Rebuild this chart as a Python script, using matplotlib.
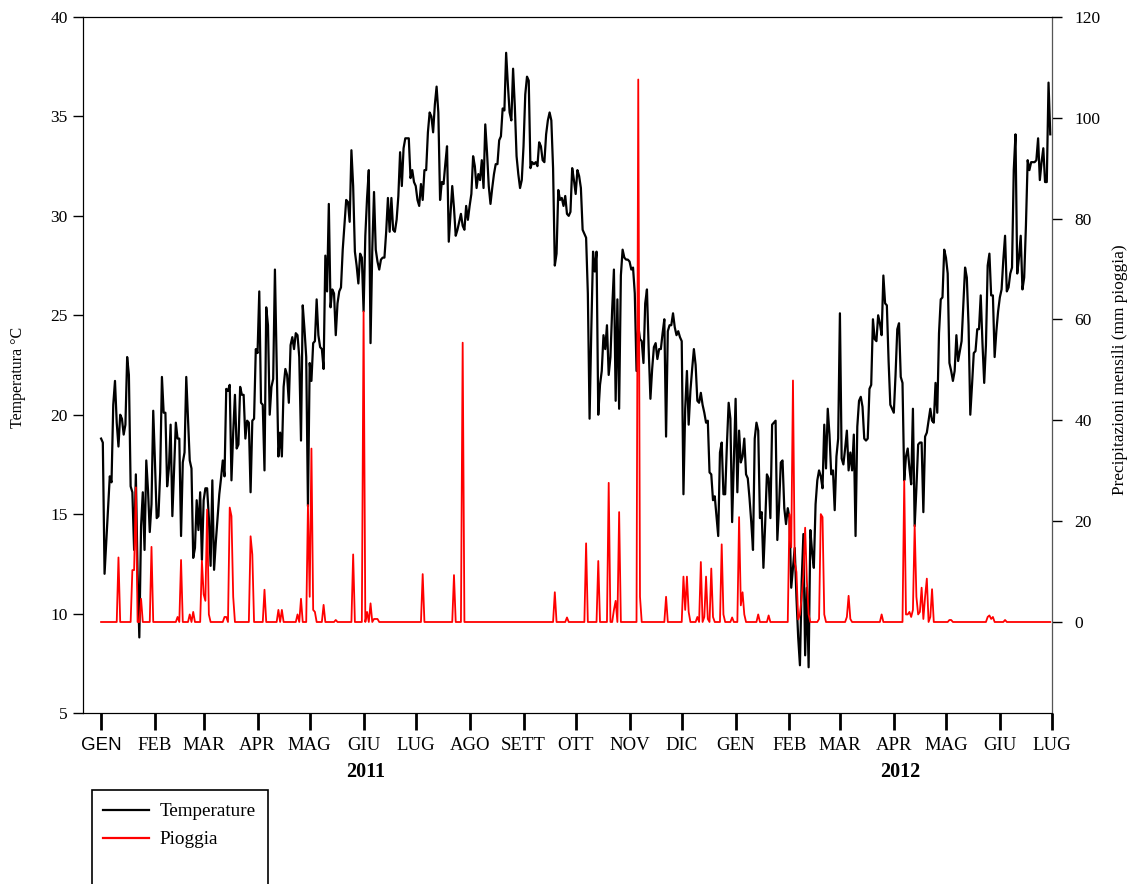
import numpy as np
import matplotlib
matplotlib.use('Agg')
import matplotlib.pyplot as plt
from matplotlib.lines import Line2D
from matplotlib.patches import Rectangle

# giorni dal 1 gennaio 2011 (0) al 1 luglio 2012 (547)
temp_giorni = [
    0, 1, 2, 4, 5, 6, 7, 8, 9, 10, 11, 12, 13, 14, 15, 16, 17, 18, 19, 20,
    21, 22, 23, 24, 25, 26, 27, 28, 29, 30, 31, 32, 33, 34, 35, 36, 37, 38, 39, 40,
    41, 42, 43, 44, 45, 46, 47, 48, 49, 50, 51, 52, 53, 54, 55, 56, 57, 58, 59, 60,
    61, 62, 63, 64, 65, 66, 68, 69, 70, 71, 72, 73, 74, 75, 76, 77, 78, 79, 80,
    81, 82, 83, 84, 85, 86, 87, 88, 89, 90, 91, 92, 93, 94, 95, 96, 97, 98, 99, 100,
    101, 102, 103, 104, 105, 106, 107, 108, 109, 110, 111, 112, 113, 114, 115, 116, 117, 118, 119, 120,
    121, 122, 123, 124, 125, 126, 127, 128, 129, 130, 131, 132, 133, 134, 135, 136, 137, 138, 139,
    141, 142, 143, 144, 145, 146, 147, 148, 149, 150, 151, 152, 153, 154, 155, 156, 157, 158, 159, 160,
    161, 162, 163, 164, 165, 166, 167, 168, 169, 170, 171, 172, 173, 174, 175, 176, 177, 178, 179, 180,
    181, 182, 183, 184, 185, 186, 187, 188, 189, 190, 191, 192, 193, 194, 195, 196, 197, 198, 199, 200,
    201, 202, 203, 204, 205, 206, 207, 208, 209, 210, 211, 212, 213, 214, 215, 216, 217, 218, 219, 220,
    221, 222, 223, 224, 225, 226, 227, 228, 229, 230, 231, 232, 233, 234, 235, 236, 237, 238, 239, 240,
    241, 242, 243, 244, 245, 246, 247, 248, 249, 250, 251, 252, 253, 254, 255, 256, 257, 258, 259, 260,
    261, 262, 263, 264, 265, 266, 267, 268, 269, 270, 271, 272, 273, 274, 275, 276, 277, 278, 279, 280,
    281, 282, 283, 284, 285, 286, 287, 288, 289, 290, 291, 292, 293, 294, 295, 296, 297, 298, 299, 300,
    301, 302, 303, 304, 305, 306, 307, 308, 309, 310, 311, 312, 313, 314, 315, 316, 317, 318, 319, 320,
    321, 322, 323, 324, 325, 326, 327, 328, 329, 330, 331, 332, 333, 334, 335, 336, 337, 338, 339, 340,
    341, 342, 343, 344, 345, 346, 347, 348, 349, 350, 351, 352, 353, 354, 355, 356, 357, 358, 359, 360,
    361, 362, 363, 364, 365, 366, 367, 368, 369, 370, 371, 372, 373, 374, 375, 376, 377, 378, 379, 380,
    381, 382, 383, 384, 385, 386, 387, 388, 389, 390, 391, 392, 393, 394, 395, 396, 397, 398, 399, 400,
    401, 402, 403, 404, 405, 406, 407, 408, 409, 410, 411, 412, 413, 414, 415, 416, 417, 418, 419, 420,
    421, 422, 423, 424, 425, 426, 427, 428, 429, 430, 431, 432, 433, 434, 435, 436, 437, 438, 439, 440,
    441, 442, 443, 444, 445, 446, 447, 448, 449, 450, 451, 452, 453, 454, 455, 456, 457, 458, 459, 460,
    461, 462, 463, 464, 465, 466, 467, 468, 469, 470, 471, 472, 473, 474, 475, 476, 477, 478, 479, 480,
    481, 482, 483, 484, 485, 486, 487, 488, 489, 490, 491, 492, 493, 494, 495, 496, 497, 498, 499, 500,
    501, 502, 503, 504, 505, 506, 507, 508, 509, 510, 511, 512, 513, 514, 515, 516, 517, 518, 519, 520,
    521, 522, 523, 524, 525, 526, 527, 528, 529, 530, 531, 532, 533, 534, 535, 536, 537, 538, 539, 540,
    541, 542, 543, 544, 545, 546,
]
temp_valori = [
    18.8, 18.6, 12.0, 15.3, 16.9, 16.6, 20.5, 21.7, 19.6, 18.4, 20.0, 19.8, 19.0, 19.5, 22.9, 22.0, 16.4, 16.1, 13.2, 17.0,
    12.0, 8.8, 14.4, 16.1, 13.2, 17.7, 16.2, 14.1, 15.5, 20.2, 17.6, 14.8, 14.9, 17.1, 21.9, 20.1, 20.1, 16.4, 17.3, 19.5,
    14.9, 17.2, 19.6, 18.8, 18.8, 13.9, 17.6, 18.1, 21.9, 19.8, 17.7, 17.3, 12.8, 13.3, 15.7, 14.2, 16.1, 12.7, 15.7, 16.3,
    16.3, 14.8, 12.4, 16.7, 12.2, 13.6, 16.0, 16.8, 17.7, 16.9, 21.3, 21.2, 21.5, 16.7, 19.1, 21.0, 18.3, 18.5, 21.4,
    21.0, 21.0, 18.8, 19.7, 19.6, 16.1, 19.7, 19.8, 23.3, 23.1, 26.2, 20.6, 20.5, 17.2, 25.4, 24.5, 20.0, 21.4, 21.8, 27.3,
    22.7, 17.9, 19.1, 17.9, 21.4, 22.3, 22.0, 20.6, 23.5, 23.9, 23.3, 24.1, 24.0, 22.9, 18.7, 25.5, 24.3, 22.9, 15.4, 22.6,
    21.7, 23.6, 23.7, 25.8, 24.0, 23.4, 23.3, 22.3, 28.0, 26.2, 30.6, 25.4, 26.3, 26.1, 24.0, 25.6, 26.2, 26.4, 28.3,
    30.8, 30.7, 29.7, 33.3, 31.5, 28.2, 27.5, 26.6, 28.1, 27.9, 25.2, 29.0, 30.9, 32.3, 23.6, 28.3, 31.2, 28.3, 27.7, 27.3,
    27.8, 27.9, 27.9, 29.2, 30.9, 29.2, 30.9, 29.3, 29.2, 29.8, 31.0, 33.2, 31.5, 33.4, 33.9, 33.9, 33.9, 31.9, 32.3, 31.7,
    31.5, 30.8, 30.5, 31.6, 30.8, 32.3, 32.3, 34.2, 35.2, 35.0, 34.2, 35.6, 36.5, 35.2, 30.8, 31.7, 31.6, 32.6, 33.5, 28.7,
    30.1, 31.5, 30.4, 29.0, 29.3, 29.7, 30.1, 29.5, 29.3, 30.5, 29.8, 30.5, 31.1, 33.0, 32.5, 31.4, 32.1, 31.8, 32.8, 31.4,
    34.6, 33.2, 31.5, 30.6, 31.4, 32.1, 32.6, 32.6, 33.8, 34.0, 35.4, 35.3, 38.2, 36.6, 35.2, 34.8, 37.4, 35.5, 33.0, 32.1,
    31.4, 31.8, 33.5, 36.1, 37.0, 36.8, 32.4, 32.7, 32.6, 32.7, 32.5, 33.7, 33.5, 32.8, 32.7, 34.1, 34.8, 35.2, 34.8, 32.4,
    27.5, 28.1, 31.3, 30.8, 30.9, 30.5, 31.0, 30.1, 30.0, 30.2, 32.4, 31.8, 31.1, 32.3, 32.0, 31.4, 29.3, 29.1, 28.9, 26.1,
    19.8, 24.3, 28.2, 27.2, 28.2, 20.0, 21.5, 22.2, 24.0, 23.3, 24.5, 22.0, 22.9, 25.3, 27.3, 20.7, 25.8, 20.3, 27.0, 28.3,
    27.9, 27.8, 27.8, 27.7, 27.3, 27.4, 26.1, 22.2, 24.5, 23.8, 23.7, 22.6, 25.6, 26.3, 23.3, 20.8, 22.3, 23.4, 23.6, 22.8,
    23.3, 23.3, 24.1, 24.8, 18.9, 24.2, 24.5, 24.5, 25.1, 24.4, 24.0, 24.2, 23.9, 23.7, 16.0, 20.3, 22.2, 19.5, 21.2, 22.3,
    23.3, 22.5, 20.7, 20.6, 21.1, 20.5, 20.1, 19.6, 19.7, 17.1, 17.0, 15.7, 15.9, 14.9, 13.9, 18.1, 18.6, 16.0, 16.0, 18.5,
    20.6, 19.8, 14.6, 17.8, 20.8, 16.1, 19.2, 17.6, 17.9, 18.8, 17.0, 16.8, 15.8, 14.6, 13.2, 18.8, 19.6, 19.2, 14.8, 15.1,
    12.3, 14.5, 17.0, 16.8, 14.8, 19.5, 19.6, 19.7, 13.7, 15.4, 17.6, 17.7, 15.3, 14.5, 15.3, 14.8, 11.3, 12.3, 13.3, 10.8,
    8.8, 7.4, 11.6, 14.0, 7.9, 11.3, 7.3, 14.2, 13.1, 12.3, 15.5, 16.7, 17.2, 16.9, 16.3, 19.5, 17.3, 20.3, 19.0, 17.0,
    17.2, 15.2, 17.9, 18.8, 25.1, 17.8, 17.5, 18.3, 19.2, 17.2, 18.1, 17.2, 19.0, 13.9, 19.4, 20.7, 20.9, 20.4, 18.8, 18.7,
    18.8, 21.3, 21.5, 24.8, 23.8, 23.7, 25.0, 24.6, 24.0, 27.0, 25.6, 25.5, 22.7, 20.5, 20.3, 20.1, 22.0, 24.3, 24.6, 21.9,
    21.6, 16.7, 17.9, 18.3, 17.3, 16.5, 20.3, 14.4, 16.3, 18.5, 18.6, 18.6, 15.1, 18.9, 19.1, 19.7, 20.3, 19.7, 19.6, 21.6,
    20.1, 24.1, 25.8, 25.9, 28.3, 27.9, 27.1, 22.6, 22.2, 21.7, 22.2, 24.0, 22.7, 23.2, 23.7, 25.6, 27.4, 26.9, 24.5, 20.0,
    21.5, 23.1, 23.2, 24.3, 24.3, 26.0, 23.6, 21.6, 23.5, 27.5, 28.1, 26.0, 26.0, 22.9, 24.2, 25.2, 25.9, 26.3, 27.8, 29.0,
    26.2, 26.4, 27.1, 27.4, 32.3, 34.1, 27.1, 27.9, 29.0, 26.3, 26.9, 29.5, 32.8, 32.3, 32.7, 32.7, 32.7, 32.8, 33.9, 31.8,
    32.7, 33.4, 31.7, 31.7, 36.7, 34.1,
]

# giorni di pioggia (mm), gli altri giorni sono 0
pioggia_giorni = [
    10, 18, 19, 20, 23, 29, 44, 46, 51, 53, 58, 59, 60, 61, 62, 71, 72, 74, 75, 76,
    86, 87, 94, 102, 104, 113, 115, 119, 120, 121, 122, 123, 128, 135, 145, 151, 153, 155, 157, 158,
    159, 185, 203, 208, 261, 268, 279, 286, 292, 295, 296, 298, 309, 310, 325, 335, 336, 337, 338, 343,
    345, 347, 348, 349, 351, 352, 357, 358, 363, 367, 368, 369, 370, 378, 384, 396, 397, 398, 399, 400,
    401, 402, 403, 404, 405, 406, 407, 413, 414, 415, 416, 429, 430, 431, 449, 462, 463, 464, 465, 466,
    467, 468, 469, 470, 471, 472, 473, 474, 475, 477, 478, 488, 489, 510, 511, 512, 513, 520,
]
pioggia_valori = [
    12.8, 10.3, 10.3, 26.7, 4.6, 14.9, 1.0, 12.3, 1.5, 2.0, 12.1, 5.5, 4.2, 22.3, 1.5, 1.0, 1.0, 22.7, 21.0, 5.0,
    17.0, 13.4, 6.4, 2.4, 2.4, 1.5, 4.6, 23.2, 5.0, 34.4, 2.4, 2.0, 3.4, 0.4, 13.4, 61.6, 2.0, 3.7, 0.6, 0.6,
    0.6, 9.5, 9.3, 55.4, 5.9, 0.9, 15.6, 12.1, 27.6, 2.4, 4.2, 21.8, 107.6, 5.0, 5.0, 9.0, 2.4, 9.0, 2.0, 1.0,
    11.9, 1.0, 9.0, 0.6, 10.6, 1.0, 15.4, 1.5, 0.9, 20.8, 3.3, 5.9, 1.5, 1.5, 1.3, 21.4, 14.8, 47.9, 11.9, 9.9,
    0.5, 1.5, 5.0, 9.4, 18.7, 8.1, 1.5, 0.6, 21.4, 20.8, 1.5, 1.0, 5.2, 0.6, 1.5, 28.0, 1.5, 1.5, 2.0, 1.0,
    2.4, 19.2, 5.0, 1.5, 2.0, 6.8, 0.6, 5.0, 8.6, 1.0, 6.5, 0.4, 0.4, 1.0, 1.3, 0.6, 1.0, 0.4,
]

mesi_giorni = [0, 31, 59, 90, 120, 151, 181, 212, 243, 273, 304, 334,
               365, 396, 425, 456, 486, 517, 547]
mesi_etichette = ['GEN', 'FEB', 'MAR', 'APR', 'MAG', 'GIU', 'LUG', 'AGO', 'SETT', 'OTT', 'NOV', 'DIC',
                  'GEN', 'FEB', 'MAR', 'APR', 'MAG', 'GIU', 'LUG']

plt.rcParams['font.family'] = ['Liberation Serif', 'DejaVu Serif']

W, H = 1135, 884
fig = plt.figure(figsize=(W / 100, H / 100), dpi=100)
ax = fig.add_axes([83 / W, 1 - 713 / H, (1052 - 83) / W, (713 - 17) / H])

# temperatura
ax.plot(temp_giorni, temp_valori, color='black', lw=1.6)
ax.set_xlim(-10.4, 547)
ax.set_ylim(5, 40)
ax.set_yticks(range(5, 41, 5))
ax.set_xticks(mesi_giorni)
ax.set_xticklabels(mesi_etichette)
ax.get_xticklabels()[0].set_fontfamily('Liberation Sans')
ax.tick_params(axis='x', direction='out', length=12, width=2, pad=5, labelsize=13.5)
ax.tick_params(axis='y', direction='out', length=7, width=1, pad=4, labelsize=12.5)

# pioggia sull'asse destro
pioggia = np.zeros(547)
pioggia[pioggia_giorni] = pioggia_valori
ax2 = ax.twinx()
ax2.plot(np.arange(547), pioggia, color='red', lw=1.3)
ax2.set_ylim(-18.05, 120)
ax2.set_yticks(range(0, 121, 20))
ax2.tick_params(axis='y', direction='out', length=7, width=1, pad=9, labelsize=12.5)
ax2.spines['right'].set_color('#555555')

# etichette
fig.text(18 / W, 1 - 377 / H, 'Temperatura °C', rotation=90, ha='center', va='center', fontsize=11.5)
fig.text(1120 / W, 1 - 370 / H, 'Precipitazioni mensili (mm pioggia)', rotation=90,
         ha='center', va='center', fontsize=12.4)
fig.text(366 / W, 1 - 772 / H, '2011', ha='center', va='center', fontsize=14.5, fontweight='bold')
fig.text(900 / W, 1 - 772 / H, '2012', ha='center', va='center', fontsize=14.5, fontweight='bold')

# legenda
handles = [Line2D([], [], color='black', lw=1.6), Line2D([], [], color='red', lw=1.6)]
fig.legend(handles, ['Temperature', 'Pioggia'], loc='upper left',
           bbox_to_anchor=(103 / W, 1 - 803 / H), frameon=False, borderpad=0, borderaxespad=0,
           handlelength=2.4, handletextpad=0.55, labelspacing=0.55, fontsize=13.8)
fig.patches.append(Rectangle((92 / W, -0.05), (268 - 92) / W, 0.05 + 1 - 790 / H,
                             transform=fig.transFigure, fill=False, lw=1.2, color='black'))

fig.savefig('out.png', dpi=100)
